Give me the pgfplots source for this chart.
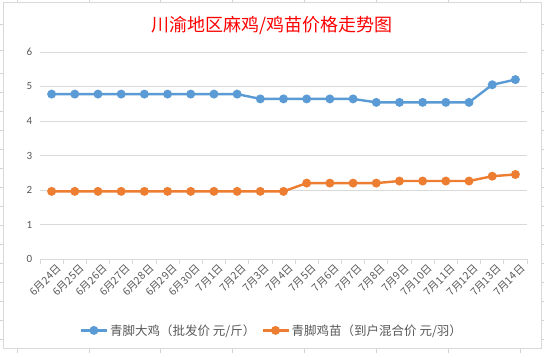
\documentclass[border=0pt]{standalone}
\usepackage{pgfplots}
\pgfplotsset{compat=1.18}
\usepackage{pgfplotstable}
\usepackage{fontspec}
\setmainfont{Noto Sans CJK SC}
\newfontfamily\numfont{Carlito}
\definecolor{xlblue}{HTML}{5B9BD5}
\definecolor{xlorange}{HTML}{ED7D31}
\definecolor{xlgrid}{HTML}{D9D9D9}
\definecolor{xltext}{HTML}{595959}
\definecolor{sheet}{HTML}{D4D4D4}

\pgfplotstableread{
x  big   chick
0  4.78  1.96
1  4.78  1.96
2  4.78  1.96
3  4.78  1.96
4  4.78  1.96
5  4.78  1.96
6  4.78  1.96
7  4.78  1.96
8  4.78  1.96
9  4.64  1.96
10 4.64  1.96
11 4.64  2.20
12 4.64  2.20
13 4.64  2.20
14 4.54  2.20
15 4.54  2.26
16 4.54  2.26
17 4.54  2.26
18 4.54  2.26
19 5.05  2.40
20 5.20  2.45
}\datatable

\begin{document}
\begin{tikzpicture}
\path[use as bounding box, fill=white] (0pt,0pt) rectangle (544pt,353pt);
% spreadsheet grid outside the chart frame
\foreach \cx in {17,89,160,232,304,376,448,520}{
  \draw[sheet, line width=0.8pt] (\cx pt,350.5pt) -- (\cx pt,353pt);
  \draw[sheet, line width=0.8pt] (\cx pt,0pt) -- (\cx pt,4pt);
}
\foreach \ry in {24,50,73,92,111,130,149,168,187,206,225,244,263,282,301,320,339}{
  \draw[sheet, line width=0.8pt] (0pt,353pt-\ry pt) -- (3pt,353pt-\ry pt);
  \draw[sheet, line width=0.8pt] (541pt,353pt-\ry pt) -- (544pt,353pt-\ry pt);
}
\draw[xlgrid, line width=1pt, fill=white] (3pt,4pt) rectangle (541pt,350.5pt);

\node[text=red, font=\fontsize{18}{20}\selectfont] at (272pt,327pt) {川渝地区麻鸡/鸡苗价格走势图};

\begin{axis}[
  at={(51.6pt,94pt)}, anchor=origin,
  scale only axis, width=487pt, height=207pt,
  xmin=-0.5, xmax=20.5, ymin=0, ymax=6,
  axis x line*=bottom, axis y line*=left,
  y axis line style={draw=none},
  x axis line style={xlgrid, line width=0.8pt},
  ytick={0,1,2,3,4,5,6},
  ymajorgrids, grid style={xlgrid, line width=0.8pt},
  ytick style={draw=none},
  yticklabel style={font=\numfont\fontsize{11}{12}\selectfont, text=xltext},
  /pgf/number format/assume math mode=true,
  xtick={0,...,20},
  xticklabels={6月24日,6月25日,6月26日,6月27日,6月28日,6月29日,6月30日,7月1日,7月2日,7月3日,7月4日,7月5日,7月6日,7月7日,7月8日,7月9日,7月10日,7月11日,7月12日,7月13日,7月14日},
  major x tick style={draw=none},
  minor xtick={-0.5,0.5,...,20.5},
  minor x tick style={xlgrid, line width=0.8pt},
  minor tick length=5pt,
  tick align=outside,
  xticklabel style={rotate=45, anchor=north east, font=\fontsize{10.5}{12}\selectfont, text=xltext, inner sep=1pt, xshift=4pt, yshift=-2pt},
  legend style={at={(0.476,-0.345)}, anchor=center, legend columns=2, draw=none, fill=none,
    font=\fontsize{12.5}{14}\selectfont, text=xltext,
    /tikz/every even column/.append style={column sep=4pt}},
  legend image code/.code={\draw[#1, mark repeat=2, mark phase=2] plot coordinates {(0pt,0pt) (13pt,0pt) (26pt,0pt)};},
  every axis plot/.append style={line width=2.4pt, mark=*, mark size=3.2pt, mark options={solid}},
  clip=false,
]
\addplot[xlblue] table[x=x, y=big] {\datatable};
\addlegendentry{青脚大鸡（批发价 元/斤）}
\addplot[xlorange] table[x=x, y=chick] {\datatable};
\addlegendentry{青脚鸡苗（到户混合价 元/羽）}
\end{axis}
\end{tikzpicture}
\end{document}
